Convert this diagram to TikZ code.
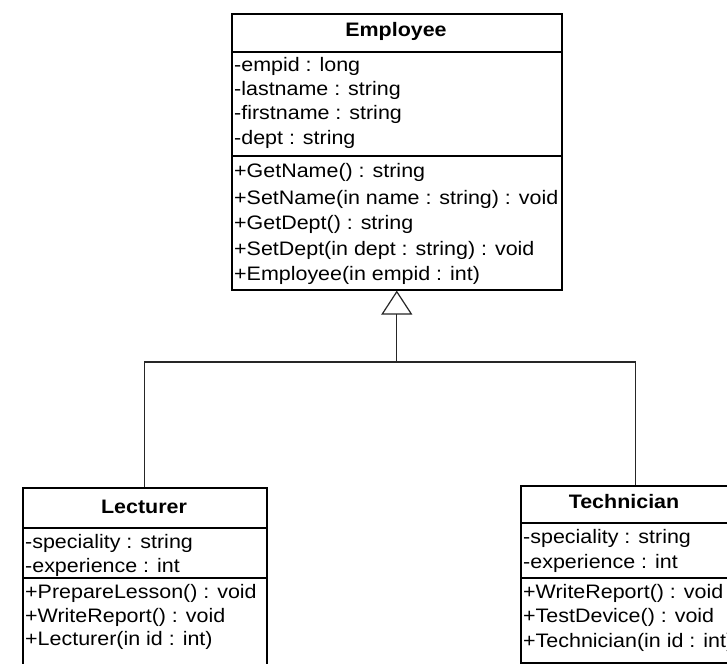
\documentclass[tikz,border=0pt]{standalone}
\usepackage{fontspec}
\setmainfont[FakeStretch=1.1]{Liberation Sans}
\usetikzlibrary{arrows.meta}
\tikzset{
  umlbox/.style={draw=black, line width=1.6pt, anchor=north west, inner sep=0pt, minimum width=#1},
  sepline/.style={draw=black, line width=1.6pt},
  memb/.style={anchor=west, inner sep=0pt, text height=14pt, text depth=4pt, font=\fontsize{19.5}{24}\selectfont},
  ttl/.style={inner sep=0pt, text height=14pt, text depth=4pt, font=\fontsize{19.5}{24}\selectfont\bfseries},
  conn/.style={draw=black!85, line width=1.2pt},
}
\begin{document}
\begin{tikzpicture}[x=1pt,y=-1pt]
\useasboundingbox (0,0) rectangle (727,663);
\fill[white] (0,0) rectangle (727,663);
\begin{scope}
\clip (0,0) rectangle (727,663);
% Employee
\node[umlbox=330pt, minimum height=276pt] (emp) at (231,13) {};
\node[ttl] (empT) at (396,32) {Employee};
\draw[sepline] (231,52) -- (561,52);
\node[memb] (e1) at (234,67) {-empid : long};
\node[memb] (e2) at (234,91) {-lastname : string};
\node[memb] (e3) at (234,115) {-firstname : string};
\node[memb] (e4) at (234,140) {-dept : string};
\draw[sepline] (231,156) -- (561,156);
\node[memb] (e5) at (234,173) {+GetName() : string};
\node[memb] (e6) at (234,199) {+SetName(in name : string) : void};
\node[memb] (e7) at (234,224) {+GetDept() : string};
\node[memb] (e8) at (234,250) {+SetDept(in dept : string) : void};
\node[memb] (e9) at (234,275) {+Employee(in empid : int)};
% Lecturer
\node[umlbox=244pt, minimum height=200pt] (lec) at (22,487) {};
\node[ttl] (lecT) at (144,508) {Lecturer};
\draw[sepline] (22,528) -- (266,528);
\node[memb] (l1) at (25,543) {-speciality : string};
\node[memb] (l2) at (25,567) {-experience : int};
\draw[sepline] (22,578) -- (266,578);
\node[memb] (l3) at (25,593) {+PrepareLesson() : void};
\node[memb] (l4) at (25,617) {+WriteReport() : void};
\node[memb] (l5) at (25,640) {+Lecturer(in id : int)};
% Technician
\node[umlbox=230pt, minimum height=177pt] (tech) at (520,485) {};
\node[ttl] (techT) at (624,503) {Technician};
\draw[sepline] (520,523) -- (750,523);
\node[memb] (t1) at (523,538) {-speciality : string};
\node[memb] (t2) at (523,563) {-experience : int};
\draw[sepline] (520,578) -- (750,578);
\node[memb] (t3) at (523,593) {+WriteReport() : void};
\node[memb] (t4) at (523,617) {+TestDevice() : void};
\node[memb] (t5) at (523,642) {+Technician(in id : int)};
% connectors
\coordinate (jn) at (emp.south |- 0,362);
\draw[conn] (lec.north) |- (jn) -| (tech.north);
\draw[conn, -{Triangle[open, length=24pt, width=31pt, line width=1.2pt]}] (jn) -- (emp.south);
\end{scope}
\end{tikzpicture}
\end{document}
